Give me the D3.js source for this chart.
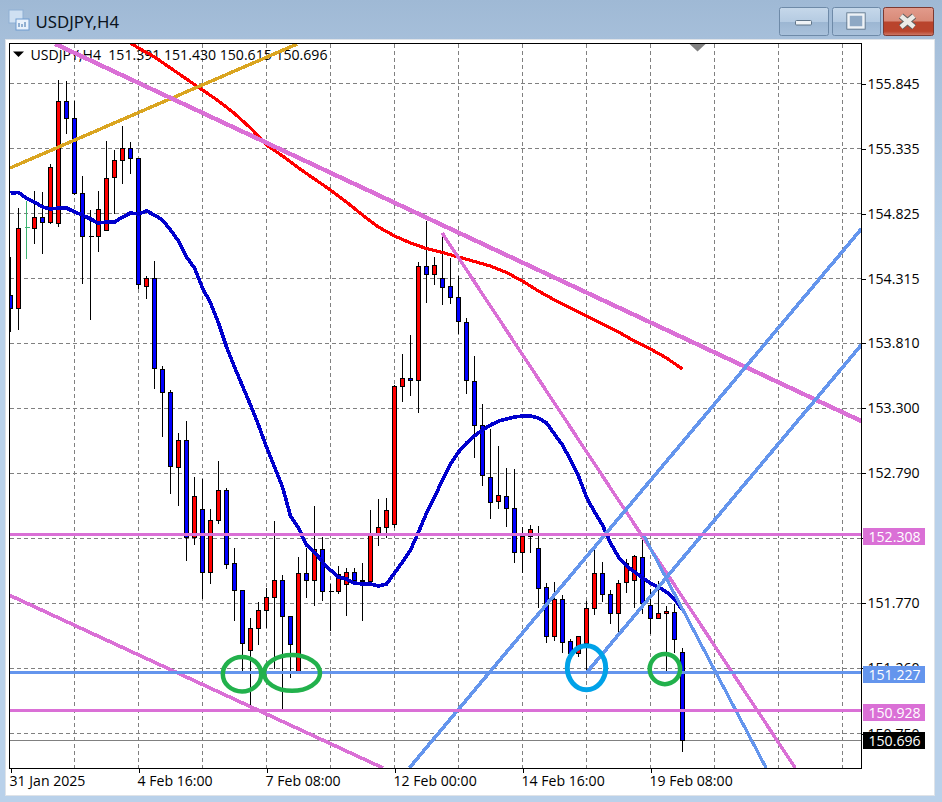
<!DOCTYPE html>
<html><head><meta charset="utf-8">
<script src="https://cdn.jsdelivr.net/npm/d3@7/dist/d3.min.js"></script>
<style>html,body{margin:0;padding:0;background:#b9d1ea;overflow:hidden}svg{display:block}</style>
</head><body><div id="c"></div>
<script>
const opens=[154.187,154.085,154.720,154.712,154.798,154.759,154.751,155.708,155.575,154.987,154.650,154.650,154.697,155.112,155.245,155.339,155.261,154.258,154.320,153.607,153.427,152.839,153.050,152.290,152.509,152.016,152.423,152.658,152.086,151.875,151.404,151.577,151.718,151.820,151.953,151.671,151.240,152.008,151.953,152.196,151.867,151.867,151.922,152.016,151.953,151.945,152.306,152.368,152.392,153.474,153.536,153.521,154.414,154.352,154.320,154.258,154.171,153.975,153.513,153.168,152.760,152.572,152.611,152.517,152.172,152.298,152.204,151.898,151.514,151.804,151.475,151.381,151.459,151.733,152.008,151.843,151.694,151.937,151.953,152.133,151.757,151.655,151.694,151.702,151.391];
const highs=[154.493,154.877,154.932,155.010,155.002,155.222,155.880,155.872,155.716,155.128,154.861,155.010,155.402,155.332,155.520,155.394,155.261,154.344,154.461,153.638,153.450,153.113,153.207,152.768,152.752,152.517,152.894,152.682,152.212,151.882,151.663,151.788,151.898,152.423,152.000,151.671,152.141,152.212,152.541,152.298,151.929,152.070,152.055,152.055,152.094,152.509,152.596,152.603,153.489,153.732,153.881,154.454,154.775,154.493,154.650,154.485,154.344,154.015,153.717,153.340,153.144,153.011,152.839,152.831,152.376,152.392,152.384,151.937,151.945,151.843,151.498,151.522,151.796,152.196,152.102,151.882,151.961,152.125,152.157,152.282,151.890,151.953,151.757,151.773,151.430];
const lows=[153.905,153.921,154.477,154.595,154.516,154.751,154.728,155.457,154.979,154.281,153.999,154.532,154.697,154.830,155.065,155.143,154.242,154.164,153.458,153.082,152.635,152.541,152.110,152.235,151.812,151.929,152.400,152.047,151.639,151.240,150.957,151.451,151.584,151.263,150.950,151.193,151.240,151.820,151.757,151.796,151.561,151.851,151.679,151.922,151.639,151.945,152.227,152.290,152.368,153.356,153.403,153.270,154.132,154.273,154.116,154.124,153.889,153.419,152.917,152.698,152.439,152.517,152.376,152.094,152.016,152.172,151.741,151.467,151.483,151.388,151.381,151.357,151.255,151.686,151.788,151.616,151.553,151.859,151.741,151.694,151.537,151.655,151.240,151.388,150.615];
const closes=[154.085,154.712,154.720,154.798,154.759,155.190,155.708,155.575,154.987,154.650,154.650,154.861,155.104,155.245,155.339,155.261,154.273,154.320,153.615,153.427,152.847,153.050,152.290,152.611,152.016,152.423,152.658,152.078,151.875,151.459,151.577,151.718,151.820,151.953,151.671,151.451,152.008,151.953,152.196,151.867,151.867,152.000,152.016,151.953,151.945,152.306,152.368,152.502,153.474,153.536,153.521,154.414,154.352,154.422,154.250,154.171,153.983,153.521,153.168,152.776,152.564,152.619,152.517,152.172,152.298,152.353,151.890,151.514,151.804,151.467,151.381,151.514,151.733,152.008,151.843,151.694,151.929,152.086,152.141,151.773,151.655,151.694,151.710,151.491,150.696];
const greenDoji=[2];
const maBlue=[154.987,154.990,154.947,154.916,154.877,154.861,154.869,154.869,154.838,154.814,154.783,154.751,154.759,154.759,154.798,154.830,154.822,154.846,154.814,154.775,154.697,154.610,154.485,154.399,154.242,154.124,153.968,153.779,153.623,153.474,153.325,153.168,152.995,152.839,152.682,152.455,152.361,152.227,152.172,152.094,152.031,151.976,151.961,151.929,151.922,151.922,151.906,151.922,152.008,152.094,152.188,152.329,152.478,152.603,152.737,152.862,152.956,153.027,153.082,153.129,153.168,153.199,153.215,153.231,153.239,153.239,153.223,153.184,153.097,153.011,152.894,152.768,152.603,152.486,152.384,152.243,152.133,152.063,152.016,151.969,151.929,151.898,151.859,151.804,151.718];
const maRedIdx=[15,16,18,20,22,24,26,28,30,32,34,36,38,40,42,44,46,48,50,52,54,56,58,60,62,64,66,68,70,72,74,76,78,80,82,84];
const maRed=[156.162,156.123,156.053,155.966,155.880,155.794,155.708,155.610,155.496,155.363,155.277,155.183,155.096,155.010,154.916,154.814,154.720,154.650,154.595,154.551,154.520,154.485,154.450,154.414,154.363,154.297,154.218,154.148,154.085,154.022,153.960,153.897,153.826,153.764,153.693,153.607];
const priceTicks=[155.845,155.335,154.825,154.315,153.810,153.300,152.790,152.280,151.770,151.260,150.750];
const timeGridIdx=[8,16,24,32,40,48,56,64,72,80,88,96,104];
const timeLabels={0:"31 Jan 2025",16:"4 Feb 16:00",32:"7 Feb 08:00",48:"12 Feb 00:00",64:"14 Feb 16:00",80:"19 Feb 08:00"};
const hLevels=[152.308,151.227,150.928];
const hColors=["#da70d6","#6495ed","#da70d6"];
const lastClose=150.696;
const trendGold=[[-0.04,155.183],[35.84,156.155]];
const trendUpper=[[5.59,156.155],[106.34,153.199]];
const trendSteep=[[53.96,154.673],[98.1,150.479]];
const trendLower=[[-0.16,151.835],[46.59,150.479]];
const trendChanA=[[49.84,150.479],[106.34,154.704]];
const trendChanB=[[72.09,151.232],[106.34,153.795]];
const trendFall=[[79.09,152.310],[94.46,150.479]];
const marksGreen=[[28.94,151.215,2.4,0.135],[35.19,151.225,3.5,0.14],[81.8,151.255,1.9,0.118]];
const marksCyan=[[72,151.265,2.4,0.172]];

const W=942,H=802,L=9.5,R=861.5,T=43.5,B=768.5;
const svg=d3.select("#c").append("svg").attr("width",W).attr("height",H);
const defs=svg.append("defs");
function grad(id,stops){const g=defs.append("linearGradient").attr("id",id).attr("x1",0).attr("x2",0).attr("y1",0).attr("y2",1);
 stops.forEach(s=>g.append("stop").attr("offset",s[0]).attr("stop-color",s[1]));}
grad("bg",[[0,"#9fb9d5"],[0.05,"#a6bfda"],[0.3,"#b9d1ea"],[1,"#b9d1ea"]]);
grad("btn",[[0,"#c6d8ea"],[0.5,"#b5cbe2"],[0.52,"#9cb6d2"],[1,"#a9c1db"]]);
grad("cls",[[0,"#e29b8c"],[0.48,"#d88a78"],[0.52,"#b9442c"],[0.85,"#b9442c"],[1,"#cf7d6c"]]);
defs.append("clipPath").attr("id","pl").append("rect").attr("x",L).attr("y",T).attr("width",R-L).attr("height",B-T);

svg.append("rect").attr("width",W).attr("height",H).attr("fill","url(#bg)");
svg.append("rect").attr("x",5.5).attr("y",39.5).attr("width",929).attr("height",756).attr("fill","#fff").attr("stroke","#dfe3e8");

// title bar
const ic=svg.append("g");
ic.append("rect").attr("x",9).attr("y",10).attr("width",14).attr("height",13).attr("fill","#cfe0f2").attr("stroke","#8fb0d4");
ic.append("rect").attr("x",16).attr("y",19).attr("width",13).attr("height",11).attr("fill","#e8f1fb").attr("stroke","#6f9bd0");
ic.append("path").attr("d","M19 27v-4M22 27v-3M25 27v-5").attr("stroke","#3b6ea8").attr("fill","none");
svg.append("text").attr("x",35.5).attr("y",28).attr("font-family","'Noto Sans'").attr("font-size",16.8).attr("fill","#0b1420").text("USDJPY,H4");
[[779,49,"url(#btn)","#6e8aa8"],[832,48,"url(#btn)","#6e8aa8"],[883,50,"url(#cls)","#7c3a32"]].forEach(b=>{
 svg.append("rect").attr("x",b[0]+.5).attr("y",7.5).attr("width",b[1]).attr("height",28).attr("rx",2).attr("fill",b[2]).attr("stroke",b[3]);});
svg.append("rect").attr("x",795.5).attr("y",20.5).attr("width",16).attr("height",4.5).attr("rx",1).attr("fill","#eef2f6").attr("stroke","#5f7488");
svg.append("rect").attr("x",848.5).attr("y",14.5).attr("width",15).attr("height",13).attr("fill","#8ea8c4").attr("stroke","#eef2f6").attr("stroke-width",2.5);
svg.append("rect").attr("x",846.8).attr("y",12.8).attr("width",18.4).attr("height",16.4).attr("fill","none").attr("stroke","#5f7488").attr("stroke-width",.8);
svg.append("path").attr("d","M901 16L914 27M914 16L901 27").attr("stroke","#5f5f5f").attr("stroke-width",6.5).attr("fill","none");
svg.append("path").attr("d","M901 16L914 27M914 16L901 27").attr("stroke","#eceae6").attr("stroke-width",4.5).attr("fill","none");

const x=d3.scaleLinear().domain([0,84]).range([10.5,682.5]);
const y=d3.scaleLinear().domain([155.845,150.75]).range([83.5,733.5]);
const font="'Open Sans'",fs=14.1;

// axes + grid
const gy=svg.append("g").attr("transform",`translate(${R},0)`).call(d3.axisRight(y).tickValues(priceTicks).tickFormat(d3.format(".3f")).tickSize(4).tickPadding(2));
gy.select(".domain").remove();
gy.selectAll("line").attr("stroke","#000").attr("shape-rendering","crispEdges");
gy.selectAll("text").attr("font-family",font).attr("font-size",fs).attr("fill","#000");
const labelIdx=Object.keys(timeLabels).map(Number);
const gx=svg.append("g").attr("transform",`translate(0,${B})`).call(d3.axisBottom(x).tickValues(labelIdx).tickFormat(d=>timeLabels[d]).tickSize(4).tickPadding(2));
gx.select(".domain").remove();
gx.selectAll("line").attr("stroke","#000").attr("shape-rendering","crispEdges");
gx.selectAll("text").attr("text-anchor","start").attr("font-family",font).attr("font-size",fs).attr("fill","#000").attr("dx",-1.5).attr("dy",11);

const grid=svg.append("g").attr("stroke","#808080").attr("stroke-dasharray","4,3").attr("shape-rendering","crispEdges").attr("clip-path","url(#pl)");
priceTicks.forEach(p=>grid.append("line").attr("x1",L).attr("x2",R).attr("y1",Math.floor(y(p))+.5).attr("y2",Math.floor(y(p))+.5));
timeGridIdx.forEach(i=>grid.append("line").attr("x1",x(i)).attr("x2",x(i)).attr("y1",T).attr("y2",B));

// legend text (lines pass over it)
svg.append("path").attr("d","M13 51.5h11l-5.5 5.5z").attr("fill","#000");
svg.append("text").attr("x",30.5).attr("y",60).attr("font-family",font).attr("font-size",fs).attr("fill","#000").attr("xml:space","preserve").text("USDJPY,H4  151.391 151.430 150.615 150.696");
svg.append("path").attr("d","M689 43.5h17l-8.5 8z").attr("fill","#808080");

const plot=svg.append("g").attr("clip-path","url(#pl)");
const snap=v=>Math.round(v)+.5;
plot.append("line").attr("x1",L).attr("x2",R).attr("y1",snap(y(lastClose))).attr("y2",snap(y(lastClose))).attr("stroke","#808080").attr("shape-rendering","crispEdges");

// candles
const idx=d3.range(opens.length);
const cg=plot.append("g").attr("shape-rendering","crispEdges");
idx.forEach(i=>{
 const g=greenDoji.includes(i);
 cg.append("line").attr("x1",x(i)).attr("x2",x(i)).attr("y1",snap(y(highs[i]))).attr("y2",snap(y(lows[i]))).attr("stroke",g?"#3cb371":"#000");
 const t=snap(y(Math.max(opens[i],closes[i]))),b=snap(y(Math.min(opens[i],closes[i])));
 if(opens[i]===closes[i]){
  cg.append("line").attr("x1",x(i)-2).attr("x2",x(i)+3).attr("y1",t).attr("y2",t).attr("stroke",g?"#3cb371":"#000");
 } else {
  cg.append("rect").attr("x",x(i)-2).attr("width",4).attr("y",t).attr("height",Math.max(b-t,1))
   .attr("fill",closes[i]>opens[i]?"#ff0000":"#0000ff").attr("stroke","#000");
 }
});

// moving averages
const line=d3.line().x(d=>x(d[0])).y(d=>y(d[1]));
const lg=plot.append("g").attr("fill","none").attr("shape-rendering","crispEdges");
lg.append("path").attr("d",line(maRedIdx.map((d,k)=>[d,maRed[k]]))).attr("stroke","#ff0000").attr("stroke-width",3.2);
lg.append("path").attr("d",line(maBlue.map((d,k)=>[k,d]))).attr("stroke","#0000cd").attr("stroke-width",3.6);

// drawn objects
const og=plot.append("g").attr("fill","none").attr("shape-rendering","crispEdges");
og.append("path").attr("d",line(trendGold)).attr("stroke","#daa520").attr("stroke-width",3.4);
og.append("path").attr("d",line(trendUpper)).attr("stroke","#da70d6").attr("stroke-width",4.4);
og.append("path").attr("d",line(trendSteep)).attr("stroke","#da70d6").attr("stroke-width",3.4);
og.append("path").attr("d",line(trendLower)).attr("stroke","#da70d6").attr("stroke-width",3.6);
og.append("path").attr("d",line(trendChanA)).attr("stroke","#6495ed").attr("stroke-width",3.6);
og.append("path").attr("d",line(trendChanB)).attr("stroke","#6495ed").attr("stroke-width",3.6);
og.append("path").attr("d",line(trendFall)).attr("stroke","#6495ed").attr("stroke-width",3.2);
hLevels.forEach((p,k)=>og.append("line").attr("x1",L).attr("x2",R).attr("y1",y(p)).attr("y2",y(p)).attr("stroke",hColors[k]).attr("stroke-width",3));
const ell=(m,c,w)=>og.append("ellipse").attr("cx",x(m[0])).attr("cy",y(m[1])).attr("rx",x(m[2])-x(0)).attr("ry",y(0)-y(m[3])).attr("stroke",c).attr("stroke-width",w).attr("shape-rendering","auto");
marksGreen.forEach(m=>ell(m,"#22b14c",4.5));
marksCyan.forEach(m=>ell(m,"#00a2e8",5));

// frame
svg.append("rect").attr("x",L).attr("y",T).attr("width",R-L).attr("height",B-T).attr("fill","none").attr("stroke","#000").attr("shape-rendering","crispEdges");

// price tags
const tags=hLevels.map((p,k)=>[p,hColors[k],-6.3]).concat([[lastClose,"#000",-8.3]]);
tags.forEach(t=>{
 const top=Math.round(y(t[0])+t[2]);
 svg.append("rect").attr("x",863).attr("y",top).attr("width",62).attr("height",17).attr("fill",t[1]);
 svg.append("text").attr("x",868.5).attr("y",top+13.5).attr("font-family",font).attr("font-size",fs).attr("fill","#fff").text(d3.format(".3f")(t[0]));
});
</script></body></html>
